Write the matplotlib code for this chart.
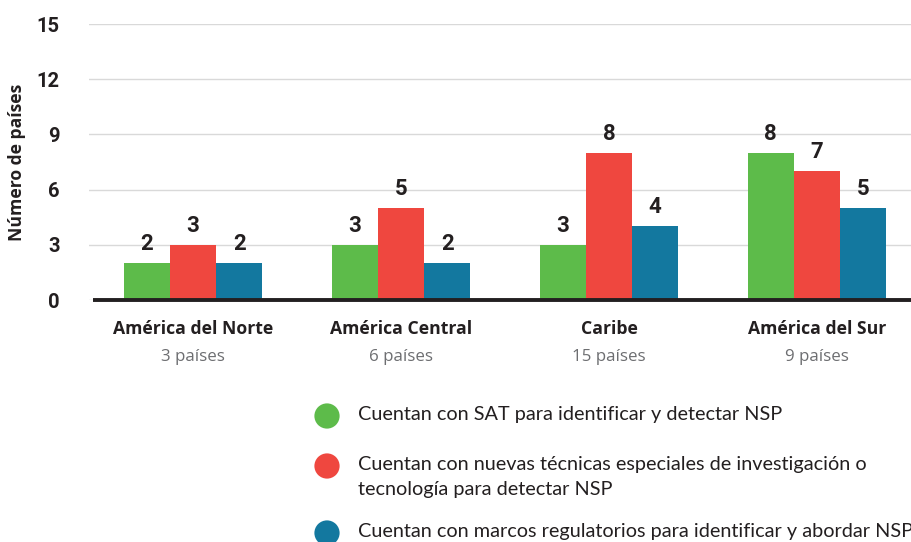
import numpy as np
import matplotlib.pyplot as plt

regions = ["América del Norte", "América Central", "Caribe", "América del Sur"]
n_countries = ["3 países", "6 países", "15 países", "9 países"]
sat = [2, 3, 3, 8]
tecnicas = [3, 5, 8, 7]
marcos = [2, 2, 4, 5]
series_labels = [
    "Cuentan con SAT para identificar y detectar NSP",
    "Cuentan con nuevas técnicas especiales de investigación o\ntecnología para detectar NSP",
    "Cuentan con marcos regulatorios para identificar y abordar NSP",
]
colors = ["#5dbb4a", "#ef473f", "#13789f"]
yticks = [0, 3, 6, 9, 12, 15]

fig = plt.figure(figsize=(9.12, 5.42), dpi=100)
ax = fig.add_axes([89 / 912, 242 / 542, 823 / 912, 276 / 542])

x = np.arange(len(regions))
w = 0.222
for k, (vals, col) in enumerate(zip([sat, tecnicas, marcos], colors)):
    pos = x + (k - 1) * w
    ax.bar(pos, vals, width=w, color=col, zorder=3)
    for px, v in zip(pos, vals):
        ax.text(px, v + 0.45, str(v), ha="center", va="bottom",
                fontsize=16, fontweight="bold", family="Roboto", color="#231f20")

ax.set_ylim(0, 15)
ax.set_xlim(-0.5, 3.457)
ax.set_yticks(yticks)
ax.set_yticklabels([str(t) for t in yticks], fontsize=14.5, fontweight="bold",
                   family="Roboto", color="#231f20")
ax.tick_params(axis="y", length=0, pad=21)
ax.set_xticks([])
ax.grid(axis="y", color="#d9d9d9", lw=1, zorder=0)
for s in ax.spines.values():
    s.set_visible(False)
ax.plot([-0.48, 3.457], [0, 0], color="#231f20", lw=2.8, zorder=4, clip_on=False,
        solid_capstyle="butt")

ax.set_ylabel("Número de países", fontsize=12.6, fontweight="bold", family="Open Sans",
              color="#231f20")
ax.yaxis.set_label_coords(-0.076, 0.5)

for i, (r, n) in enumerate(zip(regions, n_countries)):
    ax.text(i, -1.55, r, ha="center", va="center", fontsize=12.7, fontweight="bold",
            family="Open Sans", color="#231f20")
    ax.text(i, -3.1, n, ha="center", va="center", fontsize=12.2,
            family="Open Sans", color="#6d6e71")

# legend drawn by hand, in pixel coordinates
leg_ax = fig.add_axes([0, 0, 1, 1], facecolor="none")
leg_ax.set_xlim(0, 912)
leg_ax.set_ylim(542, 0)
leg_ax.axis("off")
leg_y = [416, 466, 533]
leg_ax.scatter([327] * 3, leg_y, s=330, c=colors, linewidths=0)
for yy, lab in zip(leg_y, series_labels):
    leg_ax.text(358, yy - 10, lab, ha="left", va="top", fontsize=14.3,
                family="Lato", color="#231f20", linespacing=1.6)

fig.savefig("out.png", dpi=100)
